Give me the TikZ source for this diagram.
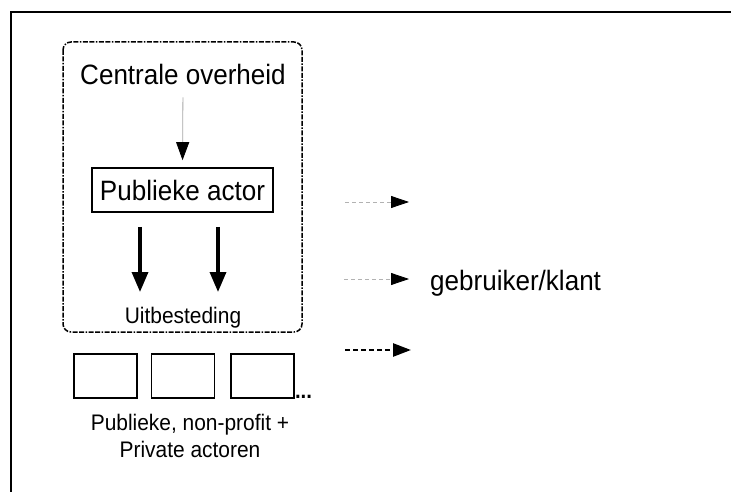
\documentclass[tikz,border=0pt]{standalone}
\usepackage{fontspec}
\setmainfont{Liberation Sans}[FakeStretch=0.93]
\usepackage{tikz}
\usetikzlibrary{arrows.meta}
\usetikzlibrary{calc}

\begin{document}
\begin{tikzpicture}[x=1pt,y=-1pt,
        bigtext/.style={font=\fontsize{28}{32}\selectfont,inner sep=0pt},
        smalltext/.style={font=\fontsize{22.5}{27}\selectfont,inner sep=0pt,align=center},
        actorbox/.style={draw,line width=1.6pt,minimum width=63pt,minimum height=44pt,inner sep=0pt},
        thinarrow/.style={draw=black!35,line width=0.8pt,-{Triangle[length=18pt,width=13pt,black]}},
        thickarrow/.style={line width=3.4pt,-{Triangle[length=20pt,width=16pt,black]}},
        greyflow/.style={draw=black!30,line width=0.8pt,dash pattern=on 4pt off 3pt,-{Triangle[length=18pt,width=12pt,black]}},
        blackflow/.style={line width=2.6pt,dash pattern=on 5pt off 3pt,-{Triangle[length=18pt,width=13pt,black]}}]
        \useasboundingbox (0,0) rectangle (731,492);
        \draw[line width=2pt] (731,12)--(11,12)--(11,492);

        \draw[line width=1.5pt,rounded corners=8pt,dash pattern=on 5pt off 1.5pt on 5pt off 1.5pt on 1.5pt off 1.5pt] (63,42) rectangle (302,332);

        \node[bigtext,anchor=base] (centrale) at (183,85) {Centrale overheid};
        \node[draw,line width=1.6pt,minimum width=181pt,minimum height=44pt,inner sep=0pt,font=\fontsize{28}{32}\selectfont] (publiek) at (182.5,190) {Publieke actor};
        \draw[thinarrow,shorten <=12pt,shorten >=7pt] (centrale.south)--(publiek.north);

        \coordinate (u1) at (140,292);
        \coordinate (u2) at (218,292);
        \draw[thickarrow,shorten <=14pt] (publiek.south -| u1)--(u1);
        \draw[thickarrow,shorten <=14pt] (publiek.south -| u2)--(u2);
        \node[smalltext,anchor=base] (uitbesteding) at (183,323) {Uitbesteding};

        \node[actorbox] (act1) at (105.5,376) {};
        \node[actorbox] (act2) at (183,376) {};
        \node[actorbox] (act3) at (262.5,376) {};
        \node[smalltext,font=\fontsize{22}{27}\bfseries,anchor=base west] (meer) at (act3.south east) {...};
        \node[smalltext,anchor=north] (actoren) at (190,414) {Publieke, non-profit +\\Private actoren};

        \coordinate (k1a) at (345,202);
        \coordinate (k1b) at (409,202);
        \coordinate (k2a) at (344,279);
        \coordinate (k2b) at (409,279);
        \coordinate (k3a) at (345,350);
        \coordinate (k3b) at (411,350);
        \draw[greyflow] (k1a)--(k1b);
        \draw[greyflow] (k2a)--(k2b);
        \draw[blackflow] (k3a)--(k3b);
        \node[bigtext,anchor=base west] (klant) at (430,290) {gebruiker/klant};
    \end{tikzpicture}
\end{document}
